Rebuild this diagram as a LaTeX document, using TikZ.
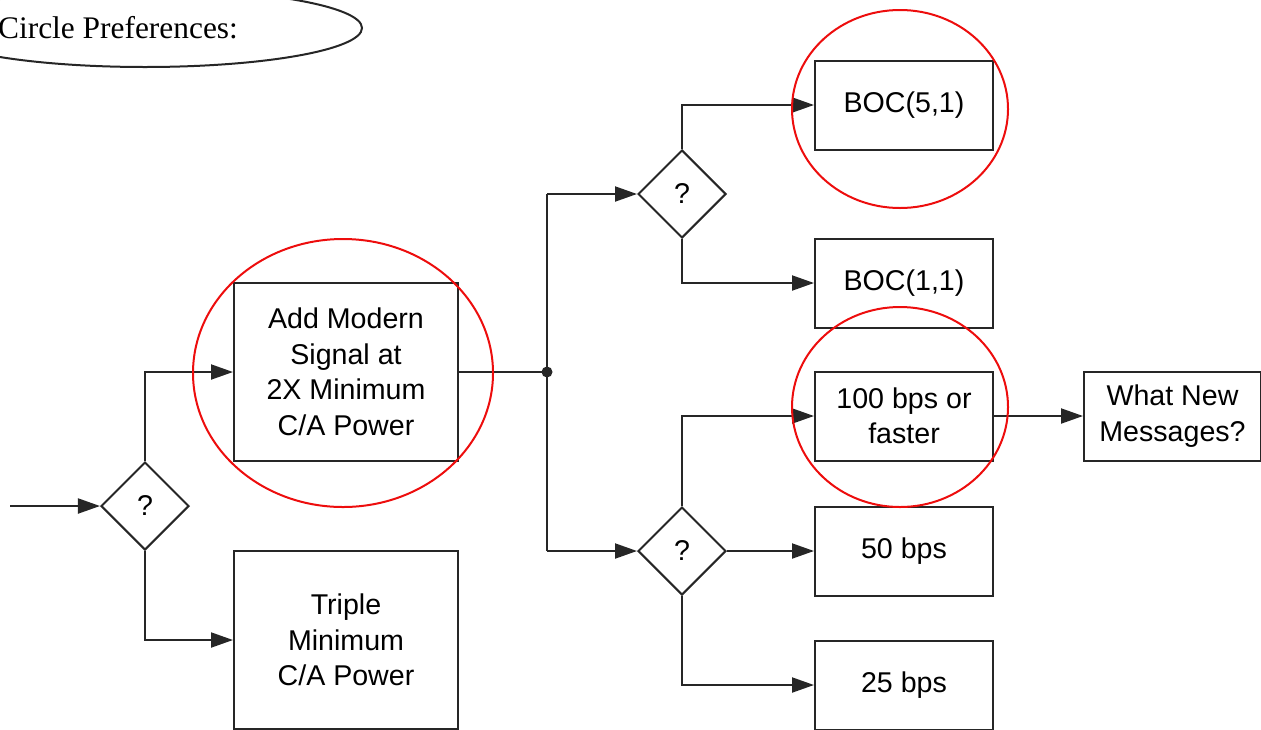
\documentclass[tikz,border=0pt]{standalone}
\usepackage{fontspec}
\usepackage{tikz}
\usetikzlibrary{arrows.meta,positioning,shapes.geometric,calc}
\newfontfamily\boxfont{Liberation Sans}
\newfontfamily\notefont{Liberation Serif}
\definecolor{lineblk}{rgb}{0.15,0.15,0.15}
\definecolor{markred}{rgb}{0.93,0.05,0.05}

\begin{document}
\begin{tikzpicture}[x=0.5pt,y=-0.5pt,line width=1pt,
   font=\boxfont\fontsize{14.3}{17.75}\selectfont,
   blk/.style={draw=lineblk,align=center,inner sep=0pt,minimum width=112pt,minimum height=89pt},
   sblk/.style={draw=lineblk,align=center,inner sep=0pt,minimum width=89pt,minimum height=44.5pt},
   dec/.style={draw=lineblk,diamond,aspect=1,inner sep=0pt,minimum width=44pt,minimum height=44pt},
   arr/.style={draw=lineblk,-{Triangle[length=11pt,width=7.5pt]}},
   ring/.style={draw=markred,line width=1pt}]
  \useasboundingbox (0,0) rectangle (1261,729);
  \clip (0,0) rectangle (1261,729);

  % note in the corner
  \draw[lineblk] (145,28) ellipse [x radius=108.5pt,y radius=19.5pt];
  \node[font=\notefont\fontsize{15.7}{18}\selectfont] (pref) at (118,28) {Circle Preferences:};

  % first decision and the two power options
  \coordinate (in) at (10,506);
  \node[dec] (q1) at (145,506) {?};
  \node[blk] (mod) at (346,372) {Add Modern\\Signal at\\2X Minimum\\C/A Power};
  \node[blk] (tri) at (346,640) {Triple\\Minimum\\C/A Power};

  % split after the modern signal
  \coordinate (jn) at (547,372);
  \node[dec] (q2) at (682,194) {?};
  \node[dec] (q3) at (682,551) {?};

  % outcomes
  \node[sblk] (b51) at (904,105) {BOC(5,1)};
  \node[sblk] (b11) at (904,283) {BOC(1,1)};
  \node[sblk] (fast) at (904,416) {100 bps or\\faster};
  \node[sblk] (b50) at (904,551) {50 bps};
  \node[sblk] (b25) at (904,685) {25 bps};
  \node[sblk,minimum width=88.5pt,right=44.5pt of fast] (msg) {What New\\Messages?};

  % connectors
  \draw[arr] (in) -- (q1);
  \draw[arr] (q1.north) |- (mod);
  \draw[arr] (q1.south) |- (tri);
  \draw[lineblk] (mod) -- (jn);
  \fill[lineblk] (jn) circle (2.75pt);
  \draw[lineblk] (jn |- q2) -- (jn |- q3);
  \draw[arr] (jn |- q2) -- (q2);
  \draw[arr] (jn |- q3) -- (q3);
  \draw[arr] (q2.north) |- (b51);
  \draw[arr] (q2.south) |- (b11);
  \draw[arr] (q3.north) |- (fast);
  \draw[arr] (q3) -- (b50);
  \draw[arr] (q3.south) |- (b25);
  \draw[arr] (fast) -- (msg);

  % preferred choices
  \draw[ring] (343,373) ellipse [x radius=75pt,y radius=67pt];
  \draw[ring] (900,109) ellipse [x radius=54pt,y radius=49.5pt];
  \draw[ring] (900,407) ellipse [x radius=54pt,y radius=50pt];
\end{tikzpicture}
\end{document}
